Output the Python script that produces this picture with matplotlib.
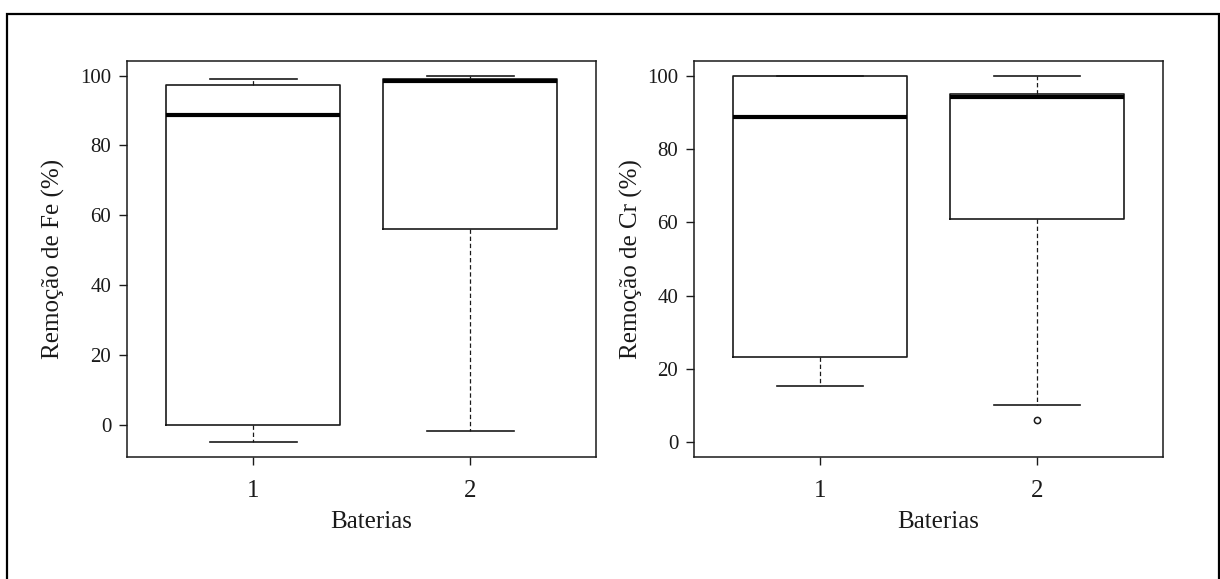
# plot.py
# Removal of Fe and Cr per battery (boxplots, two panels)

import matplotlib as mpl
import matplotlib.pyplot as plt
from matplotlib.patches import Rectangle

plt.rcParams["font.family"] = ["Liberation Serif", "DejaVu Serif"]

baterias = ["1", "2"]

# five-number summaries per battery: lower whisker, Q1, median, Q3, upper whisker
fe_whislo = [-5.0, -1.8]
fe_q1 = [0.0, 56.0]
fe_med = [88.7, 98.5]
fe_q3 = [97.2, 99.0]
fe_whishi = [99.0, 100.0]
fe_fliers = [[], []]

cr_whislo = [15.2, 10.0]
cr_q1 = [23.1, 60.8]
cr_med = [88.6, 94.3]
cr_q3 = [100.0, 95.0]
cr_whishi = [100.0, 100.0]
cr_fliers = [[], [6.1]]

y_ticks = [0, 20, 40, 60, 80, 100]


def make_stats(whislo, q1, med, q3, whishi, fliers):
    stats = []
    for i in range(len(med)):
        stats.append({
            "whislo": whislo[i], "q1": q1[i], "med": med[i],
            "q3": q3[i], "whishi": whishi[i], "fliers": fliers[i],
        })
    return stats


def draw_panel(ax, stats, ylim, ylabel, ylabel_x):
    ax.bxp(
        stats,
        positions=[1, 2],
        widths=0.8,
        capwidths=0.4,
        showfliers=True,
        patch_artist=False,
        boxprops=dict(color="#1a1a1a", linewidth=1.2),
        medianprops=dict(color="black", linewidth=3.0, solid_capstyle="butt"),
        whiskerprops=dict(color="#1a1a1a", linewidth=0.9, linestyle=(0, (3.5, 2.2))),
        capprops=dict(color="#1a1a1a", linewidth=1.2),
        flierprops=dict(marker="o", markersize=4.5, markerfacecolor="none",
                        markeredgecolor="#1a1a1a", markeredgewidth=1.1),
    )
    ax.set_xlim(0.42, 2.58)
    ax.set_ylim(*ylim)
    ax.set_xticks([1, 2])
    ax.set_xticklabels(baterias)
    ax.set_yticks(y_ticks)

    for side in ax.spines.values():
        side.set_linewidth(1.1)
        side.set_color("#1a1a1a")

    ax.tick_params(axis="x", length=5.5, width=1.0, pad=11, labelsize=18,
                   color="#1a1a1a", labelcolor="#1a1a1a")
    ax.tick_params(axis="y", length=5.5, width=1.0, pad=6.0, labelsize=15,
                   color="#1a1a1a", labelcolor="#1a1a1a")

    ax.set_xlabel("Baterias", fontsize=18, color="#1a1a1a")
    ax.xaxis.set_label_coords(0.52, -0.137)
    ax.set_ylabel(ylabel, fontsize=18, color="#1a1a1a")
    ax.yaxis.set_label_coords(ylabel_x, 0.5)


fig = plt.figure(figsize=(12.2, 5.79), dpi=100)

ax_fe = fig.add_axes([0.1043, 0.2112, 0.4885 - 0.1043, 0.8946 - 0.2112])
ax_cr = fig.add_axes([0.5691, 0.2112, 0.9530 - 0.5691, 0.8946 - 0.2112])

draw_panel(ax_fe, make_stats(fe_whislo, fe_q1, fe_med, fe_q3, fe_whishi, fe_fliers),
           (-9.2, 104.2), "Remoção de Fe (%)", -0.133)
draw_panel(ax_cr, make_stats(cr_whislo, cr_q1, cr_med, cr_q3, cr_whishi, cr_fliers),
           (-4.0, 104.0), "Remoção de Cr (%)", -0.109)

# outer frame around both panels
frame = Rectangle((0.0055, -0.02), 0.9934, 0.9958, transform=fig.transFigure,
                  fill=False, edgecolor="black", linewidth=1.6)
fig.add_artist(frame)

fig.savefig("out.png", dpi=100)
